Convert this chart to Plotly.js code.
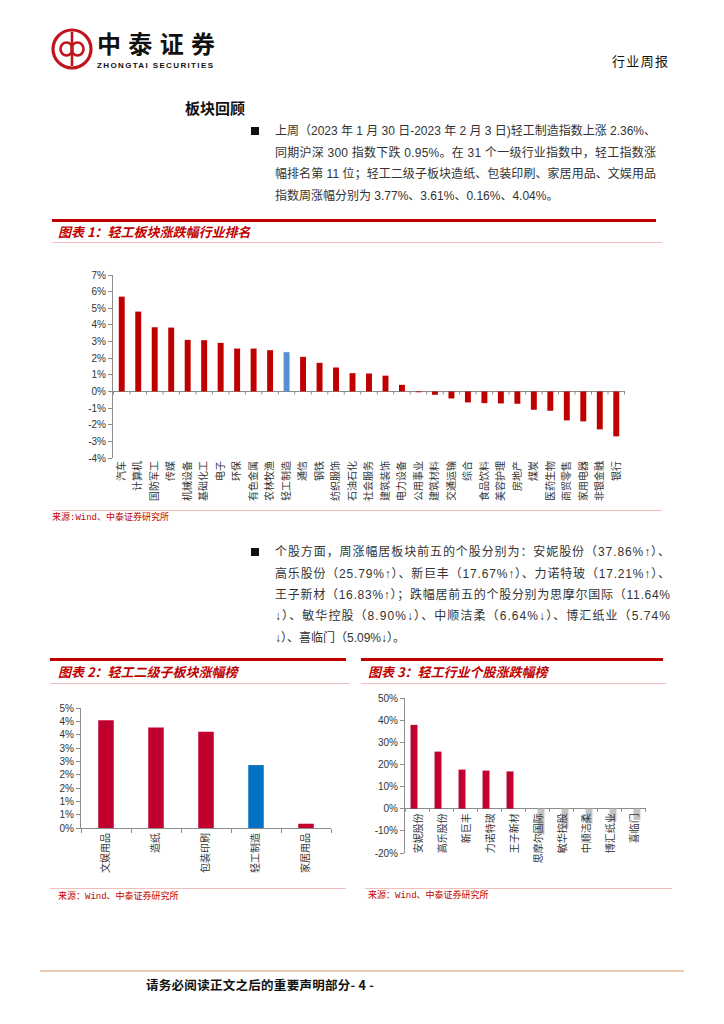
<!DOCTYPE html>
<html lang="zh-CN">
<head>
<meta charset="utf-8">
<title>行业周报</title>
<script src="https://cdn.plot.ly/plotly-3.0.1.min.js"></script>
<style>
html,body{margin:0;padding:0;background:#fff;}
#page{position:relative;width:724px;height:1024px;overflow:hidden;background:#fff;font-family:"Liberation Sans","Noto Sans CJK SC",sans-serif;color:#222;}
.t{position:absolute;white-space:nowrap;line-height:1;}
.rule{position:absolute;}
.red{background:#C00000;height:3px;}
.pink{background:#F2BDBD;height:1px;}
.cap{color:#C00000;font-weight:bold;font-style:italic;font-size:13px;font-family:"Noto Sans CJK SC",sans-serif;}
.src{color:#C00000;font-size:9px;font-family:"Liberation Mono","Noto Sans CJK SC",monospace;}
.para{font-size:12px;color:#333;}
.bullet{position:absolute;width:8px;height:8px;background:#111;}
.chart{position:absolute;}
</style>
</head>
<body>
<div id="page">
  <svg style="position:absolute;left:48px;top:25px" width="50" height="50" viewBox="0 0 50 50">
    <circle cx="24" cy="24" r="19" fill="none" stroke="#C0141B" stroke-width="3.2"/>
    <line x1="24" y1="7" x2="24" y2="41" stroke="#C0141B" stroke-width="2.6"/>
    <ellipse cx="18.5" cy="24" rx="6" ry="6.5" fill="none" stroke="#C0141B" stroke-width="2.6"/>
    <ellipse cx="29.5" cy="24" rx="6" ry="6.5" fill="none" stroke="#C0141B" stroke-width="2.6"/>
  </svg>
  <div class="t fit" id="brand" data-w="118" style="left:97px;font-size:24px;font-weight:bold;color:#111;font-family:'Noto Sans CJK SC',sans-serif;">中泰证券</div>
  <div class="t fit" id="brandEn" data-w="116" style="left:97px;font-size:8px;font-weight:bold;color:#111;">ZHONGTAI SECURITIES</div>
  <div class="t fit" id="docType" data-w="56" style="left:612px;font-size:13px;color:#111;font-family:'Noto Sans CJK SC',sans-serif;">行业周报</div>

  <div class="t" id="secTitle" style="left:185px;font-size:15px;font-weight:bold;color:#111;font-family:'Noto Sans CJK SC',sans-serif;">板块回顾</div>

  <div class="bullet" style="left:251px;top:127px"></div>
  <div class="t para fit" data-w="381" data-y="131" style="left:275px">上周（2023 年 1 月 30 日-2023 年 2 月 3 日)轻工制造指数上涨 2.36%、</div>
  <div class="t para fit" data-w="381" data-y="152.5" style="left:275px">同期沪深 300 指数下跌 0.95%。在 31 个一级行业指数中，轻工指数涨</div>
  <div class="t para fit" data-w="381" data-y="174" style="left:275px">幅排名第 11 位；轻工二级子板块造纸、包装印刷、家居用品、文娱用品</div>
  <div class="t para" data-y="195.5" style="left:275px">指数周涨幅分别为 3.77%、3.61%、0.16%、4.04%。</div>

  <div class="rule red" style="left:52px;top:219px;width:604px"></div>
  <div class="t cap" data-y="231" style="left:58px">图表 1：轻工板块涨跌幅行业排名</div>
  <div class="rule pink" style="left:52px;top:242px;width:610px"></div>
  <div class="chart" id="c1" style="left:40px;top:262px;width:620px;height:245px"></div>
  <div class="rule pink" style="left:52px;top:510px;width:610px"></div>
  <div class="t src" data-y="518" style="left:52px">来源:Wind、中泰证券研究所</div>

  <div class="bullet" style="left:251px;top:548px"></div>
  <div class="t para fit" data-w="395" data-y="552" style="left:275px">个股方面，周涨幅居板块前五的个股分别为：安妮股份（37.86%↑）、</div>
  <div class="t para fit" data-w="395" data-y="573.5" style="left:275px">高乐股份（25.79%↑）、新巨丰（17.67%↑）、力诺特玻（17.21%↑）、</div>
  <div class="t para fit" data-w="395" data-y="595" style="left:275px">王子新材（16.83%↑）；跌幅居前五的个股分别为思摩尔国际（11.64%</div>
  <div class="t para fit" data-w="395" data-y="616" style="left:275px">↓）、敏华控股（8.90%↓）、中顺洁柔（6.64%↓）、博汇纸业（5.74%</div>
  <div class="t para" data-y="637.5" style="left:275px">↓）、喜临门（5.09%↓）。</div>

  <div class="rule red" style="left:50px;top:658px;width:296px"></div>
  <div class="rule red" style="left:361px;top:658px;width:302px"></div>
  <div class="t cap" data-y="671" style="left:58px">图表 2：轻工二级子板块涨幅榜</div>
  <div class="t cap" data-y="671" style="left:368px">图表 3：轻工行业个股涨跌幅榜</div>
  <div class="rule pink" style="left:50px;top:683px;width:300px"></div>
  <div class="rule pink" style="left:361px;top:683px;width:305px"></div>
  <div class="chart" id="c2" style="left:40px;top:695px;width:310px;height:190px"></div>
  <div class="chart" id="c3" style="left:360px;top:688px;width:310px;height:195px"></div>
  <div class="rule pink" style="left:50px;top:888px;width:296px"></div>
  <div class="rule pink" style="left:365px;top:888px;width:307px"></div>
  <div class="t src" data-y="897" style="left:58px">来源：Wind、中泰证券研究所</div>
  <div class="t src" data-y="896" style="left:368px">来源：Wind、中泰证券研究所</div>

  <div class="rule" style="left:40px;top:970px;width:644px;height:2px;background:#EDCBB0"></div>
  <div class="t fit" id="footer" data-w="228" style="left:146px;font-size:12.5px;font-weight:bold;color:#111;font-family:'Noto Sans CJK SC',sans-serif;">请务必阅读正文之后的重要声明部分- 4 -</div>
</div>
<script>
// ---------------- data ----------------
const industries = ["汽车","计算机","国防军工","传媒","机械设备","基础化工","电子","环保","有色金属","农林牧渔","轻工制造","通信","钢铁","纺织服饰","石油石化","社会服务","建筑装饰","电力设备","公用事业","建筑材料","交通运输","综合","食品饮料","美容护理","房地产","煤炭","医药生物","商贸零售","家用电器","非银金融","银行"];
const industryChange = [5.70,4.80,3.86,3.84,3.10,3.08,2.92,2.58,2.58,2.48,2.36,2.08,1.72,1.44,1.10,1.08,0.95,0.40,-0.05,-0.20,-0.42,-0.66,-0.70,-0.72,-0.74,-1.10,-1.16,-1.74,-1.80,-2.28,-2.70];
const highlightIndustry = "轻工制造";
const chart1TickVals = [-4,-3,-2,-1,0,1,2,3,4,5,6,7];
const chart1TickText = ["-4%","-3%","-2%","-1%","0%","1%","2%","3%","4%","5%","6%","7%"];

const subSectors = ["文娱用品","造纸","包装印刷","轻工制造","家居用品"];
const subSectorChange = [4.04,3.77,3.61,2.36,0.16];
const chart2TickVals = [0,0.5,1,1.5,2,2.5,3,3.5,4,4.5];
const chart2TickText = ["0%","1%","1%","2%","2%","3%","3%","4%","4%","5%"];

const stocks = ["安妮股份","高乐股份","新巨丰","力诺特玻","王子新材","思摩尔国际","敏华控股","中顺洁柔","博汇纸业","喜临门"];
const stockGain = [37.86,25.79,17.67,17.21,16.83,null,null,null,null,null];
const stockLoss = [null,null,null,null,null,-11.64,-8.90,-6.64,-5.74,-5.09];
const chart3TickVals = [-20,-10,0,10,20,30,40,50];
const chart3TickText = ["-20%","-10%","0%","10%","20%","30%","40%","50%"];

// ---------------- text placement ----------------
function place(el, yc){
  const s = parseFloat(getComputedStyle(el).fontSize);
  el.style.top = (yc - 0.5*s) + 'px';
}
const fixedY = {brand:43, brandEn:66, docType:60, secTitle:107, footer:985};
Object.keys(fixedY).forEach(id => place(document.getElementById(id), fixedY[id]));
document.querySelectorAll('[data-y]').forEach(el => place(el, parseFloat(el.dataset.y)));
document.querySelectorAll('.fit').forEach(el => {
  const target = parseFloat(el.dataset.w);
  const w = el.getBoundingClientRect().width;
  const n = el.textContent.length;
  if (n > 1) el.style.letterSpacing = ((target - w) / (n - 1)) + 'px';
});

// ---------------- charts ----------------
const FONT = '"Liberation Sans","Noto Sans CJK SC",sans-serif';
const AXC = '#8C8C8C';
const cfg = {staticPlot:true, displayModeBar:false};

function catTicks(n, len){
  const arr = [];
  for (let i = 0; i <= n; i++) {
    arr.push({type:'line', xref:'x', yref:'y', x0:i-0.5, x1:i-0.5,
      ysizemode:'pixel', yanchor:0, y0:0, y1:-len, line:{color:AXC, width:1}});
  }
  return arr;
}

// Chart 1
Plotly.newPlot('c1', [{
  type:'bar', x:industries, y:industryChange, width:0.36,
  marker:{color:industries.map(n => n === highlightIndustry ? '#558ED5' : '#C00000')},
  hoverinfo:'skip'
}], {
  width:620, height:245, margin:{l:73, r:35, t:13, b:49},
  paper_bgcolor:'rgba(0,0,0,0)', plot_bgcolor:'rgba(0,0,0,0)', showlegend:false,
  font:{family:FONT, size:10, color:'#333'},
  xaxis:{type:'category', tickangle:-90, showline:false, ticks:'', showgrid:false, zeroline:false,
    tickfont:{family:'"Noto Sans CJK SC",sans-serif', size:10, color:'#333'}},
  yaxis:{range:[-4,7], tickvals:chart1TickVals, ticktext:chart1TickText, showgrid:false,
    zeroline:true, zerolinecolor:AXC, zerolinewidth:1, showline:true, linecolor:AXC, linewidth:1,
    ticks:'outside', ticklen:4, tickcolor:AXC},
  shapes:catTicks(industries.length, 3)
}, cfg);

// Chart 2
Plotly.newPlot('c2', [{
  type:'bar', x:subSectors, y:subSectorChange, width:0.31,
  marker:{color:subSectors.map(n => n === highlightIndustry ? '#0070C0' : '#C0002F')},
  hoverinfo:'skip'
}], {
  width:310, height:190, margin:{l:41, r:19, t:13, b:57},
  paper_bgcolor:'rgba(0,0,0,0)', plot_bgcolor:'rgba(0,0,0,0)', showlegend:false,
  font:{family:FONT, size:10, color:'#333'},
  xaxis:{type:'category', tickangle:-90, showline:true, linecolor:AXC, linewidth:1, ticks:'outside',
    tickson:'boundaries', ticklen:4, tickcolor:AXC, showgrid:false, zeroline:false,
    tickfont:{family:'"Noto Sans CJK SC",sans-serif', size:10, color:'#333'}},
  yaxis:{range:[0,4.5], tickvals:chart2TickVals, ticktext:chart2TickText, showgrid:false,
    zeroline:false, showline:true, linecolor:AXC, linewidth:1, ticks:'outside', ticklen:4, tickcolor:AXC}
}, cfg);

// Chart 3
Plotly.newPlot('c3', [
  {type:'bar', name:'涨幅', x:stocks, y:stockGain, marker:{color:'#C0002F'}, hoverinfo:'skip'},
  {type:'bar', name:'跌幅', x:stocks, y:stockLoss, marker:{color:'#C4C4C4'}, hoverinfo:'skip'}
], {
  width:310, height:195, margin:{l:45, r:24, t:10, b:30},
  barmode:'group', bargap:0.42, bargroupgap:0,
  paper_bgcolor:'rgba(0,0,0,0)', plot_bgcolor:'rgba(0,0,0,0)', showlegend:false,
  font:{family:FONT, size:10, color:'#333'},
  xaxis:{type:'category', showticklabels:false, showline:false, ticks:'', showgrid:false, zeroline:false},
  yaxis:{range:[-20,50], tickvals:chart3TickVals, ticktext:chart3TickText, showgrid:false,
    zeroline:true, zerolinecolor:AXC, zerolinewidth:1, showline:true, linecolor:AXC, linewidth:1,
    ticks:'outside', ticklen:4, tickcolor:AXC},
  shapes:catTicks(stocks.length, 3),
  annotations:stocks.map(s => ({x:s, y:0, xref:'x', yref:'y', text:s, textangle:-90, showarrow:false,
    xanchor:'center', yanchor:'top', yshift:-3,
    font:{family:'"Noto Sans CJK SC",sans-serif', size:10, color:'#333'}}))
}, cfg);
</script>
</body>
</html>
